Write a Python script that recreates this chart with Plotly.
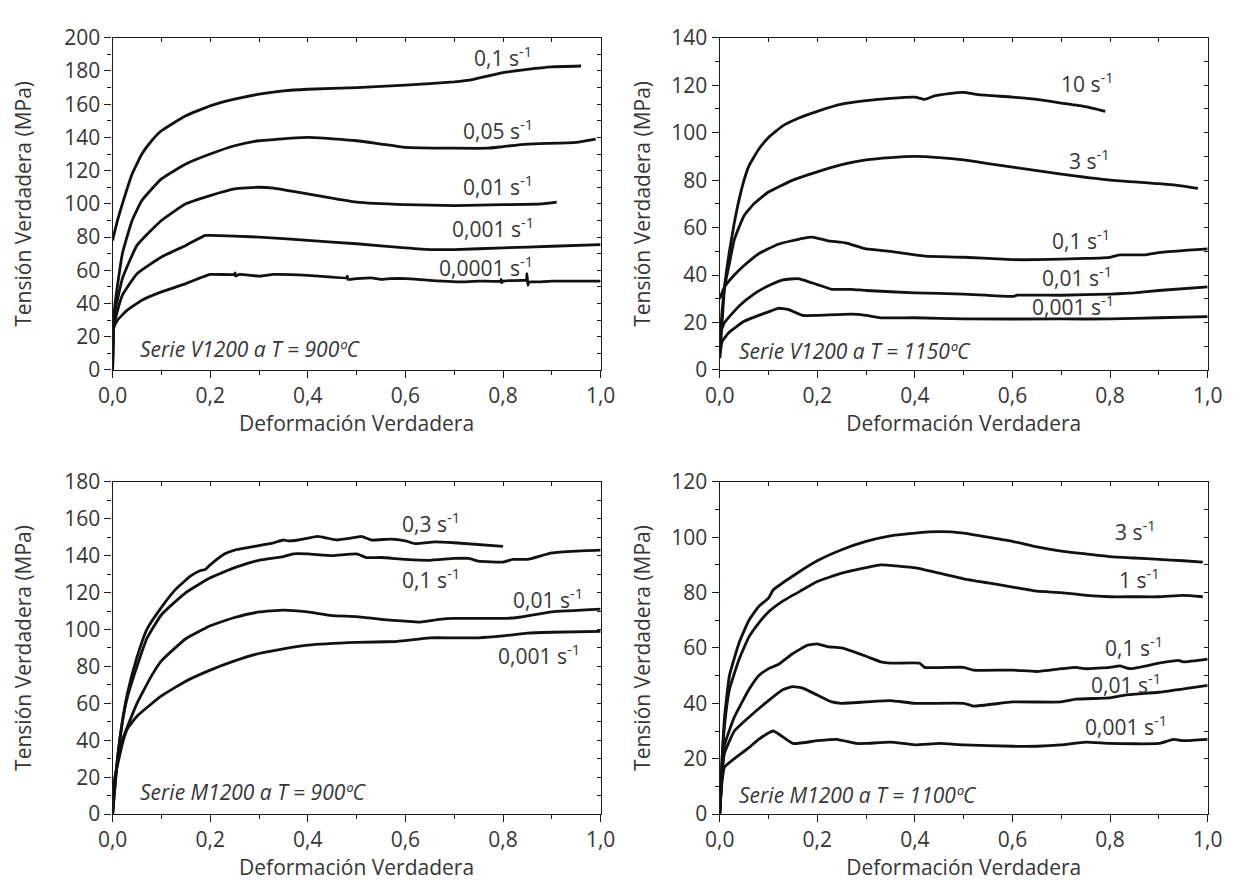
import plotly.graph_objects as go

# ---------------- Serie V1200, T = 900 ºC ----------------
v900_01_x = [0.0, 0.01, 0.02, 0.04, 0.06, 0.08, 0.1, 0.15, 0.2, 0.25, 0.3, 0.35, 0.4, 0.5, 0.6, 0.7, 0.74, 0.8, 0.85, 0.9, 0.96]
v900_01_y = [78, 90, 100, 118, 130, 138, 144, 153, 159, 163, 166, 168, 169, 170, 171.5, 173.5, 175, 179, 181, 182.5, 183]

v900_005_x = [0.0, 0.002, 0.005, 0.02, 0.04, 0.06, 0.1, 0.15, 0.2, 0.25, 0.3, 0.4, 0.5, 0.55, 0.6, 0.7, 0.77, 0.8, 0.85, 0.95, 0.99]
v900_005_y = [0, 28, 40, 70, 90, 102, 115, 124, 130, 135, 138, 140, 138, 136, 134, 133.5, 133.5, 134.5, 136, 137, 139]

v900_001_x = [0.0, 0.002, 0.005, 0.02, 0.05, 0.1, 0.15, 0.2, 0.25, 0.3, 0.33, 0.4, 0.5, 0.6, 0.7, 0.8, 0.88, 0.91]
v900_001_y = [0, 27, 35, 55, 75, 90, 100, 105, 109, 110, 109.5, 106, 101, 99.5, 99, 99.5, 100, 101]

v900_0001_x = [0.0, 0.002, 0.005, 0.02, 0.05, 0.1, 0.15, 0.19, 0.2, 0.3, 0.4, 0.5, 0.6, 0.65, 0.7, 0.8, 0.9, 1.0]
v900_0001_y = [0, 26, 30, 45, 58, 68, 75, 81, 81, 80, 78, 76, 73.5, 72.5, 72.5, 73.5, 74.5, 75.5]

v900_00001_x = [0.0, 0.002, 0.01, 0.03, 0.06, 0.1, 0.15, 0.2, 0.25, 0.251, 0.252, 0.26, 0.3, 0.33, 0.4, 0.48, 0.481, 0.482,
                0.5, 0.53, 0.55, 0.57, 0.6, 0.65, 0.72, 0.75, 0.795, 0.796, 0.797, 0.8, 0.84, 0.848, 0.849, 0.851, 0.853,
                0.87, 0.9, 1.0]
v900_00001_y = [0, 25, 30, 36, 42, 47, 52, 57.5, 57.5, 58.5, 56.5, 57.5, 56.5, 57.5, 57, 55.5, 56.5, 54.5,
                55, 55.5, 54.5, 55, 55, 54, 53, 53.5, 53.5, 54.5, 52.5, 53.5, 54, 54, 58, 51, 53,
                53, 53.5, 53.5]

# ---------------- Serie V1200, T = 1150 ºC ----------------
v1150_10_x = [0.0, 0.005, 0.01, 0.02, 0.03, 0.04, 0.05, 0.06, 0.08, 0.1, 0.13, 0.16, 0.2, 0.25, 0.3, 0.35, 0.4, 0.42,
              0.44, 0.47, 0.5, 0.53, 0.6, 0.65, 0.7, 0.75, 0.79]
v1150_10_y = [5, 20, 35, 50, 62, 72, 80, 86, 93, 98, 103, 106, 109, 112, 113.5, 114.5, 115, 114,
              115.5, 116.5, 117, 116, 115, 114, 112.5, 111, 109]

v1150_3_x = [0.0, 0.005, 0.01, 0.02, 0.03, 0.05, 0.07, 0.1, 0.15, 0.2, 0.25, 0.3, 0.35, 0.4, 0.45, 0.5, 0.55, 0.6,
             0.7, 0.8, 0.9, 0.95, 0.98]
v1150_3_y = [10, 25, 35, 45, 55, 65, 70, 75, 80, 83.5, 86.5, 88.5, 89.5, 90, 89.5, 88.5, 87, 85.5,
             82.5, 80, 78.5, 77.5, 76.5]

v1150_01_x = [0.0, 0.01, 0.03, 0.05, 0.08, 0.12, 0.17, 0.19, 0.22, 0.26, 0.3, 0.35, 0.4, 0.42, 0.5, 0.6, 0.65, 0.75,
              0.8, 0.82, 0.87, 0.9, 1.0]
v1150_01_y = [30, 35, 40, 44, 49, 53, 55.5, 56, 54.5, 53.5, 51, 50, 48.5, 48, 47.5, 46.5, 46.5, 47,
              47.5, 48.5, 48.5, 49.5, 51]

v1150_001_x = [0.0, 0.01, 0.04, 0.07, 0.1, 0.13, 0.16, 0.17, 0.2, 0.23, 0.27, 0.3, 0.4, 0.5, 0.6, 0.61, 0.7, 0.8,
               0.85, 0.9, 1.0]
v1150_001_y = [15, 20, 27, 32, 35.5, 38, 38.5, 38, 36, 34, 34, 33.5, 32.5, 32, 31, 31.5, 31.5, 32,
               32.5, 33.5, 35]

v1150_0001_x = [0.0, 0.005, 0.02, 0.05, 0.08, 0.1, 0.12, 0.14, 0.17, 0.2, 0.27, 0.3, 0.33, 0.4, 0.5, 0.7, 0.8, 0.9, 1.0]
v1150_0001_y = [5, 12, 16, 20.5, 23, 24.5, 26, 25.5, 23, 23, 23.5, 23, 22, 22, 21.5, 21.5, 21.5, 22, 22.5]

# ---------------- Serie M1200, T = 900 ºC ----------------
m900_03_x = [0.0, 0.01, 0.02, 0.03, 0.05, 0.07, 0.1, 0.13, 0.16, 0.18, 0.19, 0.2, 0.23, 0.25, 0.3, 0.33, 0.35, 0.36,
             0.38, 0.42, 0.44, 0.46, 0.5, 0.51, 0.53, 0.57, 0.6, 0.62, 0.66, 0.7, 0.8]
m900_03_y = [0, 30, 50, 65, 85, 100, 112, 122, 129, 132, 132.5, 135, 141, 143, 145.5, 147, 148.5, 148,
             148.5, 150.5, 149.5, 148.5, 150, 150.5, 148.5, 149, 148, 146.5, 147.5, 147, 145]

m900_01_x = [0.0, 0.01, 0.02, 0.03, 0.05, 0.07, 0.1, 0.15, 0.2, 0.25, 0.3, 0.35, 0.37, 0.4, 0.45, 0.5, 0.52, 0.55,
             0.6, 0.65, 0.7, 0.73, 0.75, 0.8, 0.82, 0.85, 0.9, 0.95, 1.0]
m900_01_y = [0, 30, 50, 63, 80, 95, 108, 120, 128, 133.5, 137.5, 139.5, 141, 141, 140, 141, 139, 139,
             138, 137.5, 138.5, 138.5, 137, 136.5, 138, 138, 141.5, 142.5, 143]

m900_001_x = [0.0, 0.005, 0.02, 0.05, 0.08, 0.1, 0.15, 0.2, 0.25, 0.3, 0.35, 0.4, 0.45, 0.5, 0.55, 0.6, 0.63, 0.67,
              0.7, 0.8, 0.83, 0.9, 1.0]
m900_001_y = [0, 20, 40, 60, 75, 83, 95, 102, 106.5, 109.5, 110.5, 109.5, 107.5, 107, 105.5, 104.5, 104, 105.5,
              106, 106, 106.5, 109.5, 111]

m900_0001_x = [0.0, 0.005, 0.02, 0.03, 0.05, 0.1, 0.15, 0.2, 0.25, 0.3, 0.35, 0.4, 0.5, 0.58, 0.6, 0.65, 0.7, 0.75,
               0.8, 0.85, 0.9, 1.0]
m900_0001_y = [0, 20, 38, 46, 53, 64, 72, 78, 83, 87, 89.5, 91.5, 93, 93.5, 94, 95.5, 95.5, 95.5,
               96.5, 98, 98.5, 99]

# ---------------- Serie M1200, T = 1100 ºC ----------------
m1100_3_x = [0.0, 0.005, 0.01, 0.02, 0.04, 0.06, 0.08, 0.1, 0.11, 0.15, 0.2, 0.25, 0.3, 0.35, 0.4, 0.45, 0.5, 0.55,
             0.6, 0.65, 0.7, 0.75, 0.8, 0.85, 0.9, 0.95, 0.99]
m1100_3_y = [0, 20, 35, 50, 62, 70, 75, 78, 81, 86, 91.5, 95.5, 98.5, 100.5, 101.5, 102, 101.5, 100,
             98.5, 96.5, 95, 94, 93, 92.5, 92, 91.5, 91]

m1100_1_x = [0.0, 0.005, 0.01, 0.02, 0.04, 0.06, 0.08, 0.1, 0.13, 0.17, 0.2, 0.25, 0.3, 0.33, 0.37, 0.4, 0.45, 0.5,
             0.55, 0.6, 0.65, 0.7, 0.75, 0.8, 0.85, 0.9, 0.95, 0.99]
m1100_1_y = [0, 20, 32, 45, 56, 64, 69, 73, 77, 81, 84, 87, 89, 90, 89.5, 89, 87, 85,
             83.5, 82, 80.5, 80, 79, 78.5, 78.5, 78.5, 79, 78.5]

m1100_01_x = [0.0, 0.005, 0.01, 0.03, 0.06, 0.08, 0.1, 0.12, 0.15, 0.18, 0.2, 0.22, 0.25, 0.3, 0.33, 0.35, 0.41,
              0.42, 0.5, 0.52, 0.6, 0.65, 0.7, 0.73, 0.75, 0.8, 0.82, 0.84, 0.9, 0.94, 0.95, 1.0]
m1100_01_y = [0, 15, 25, 35, 45, 50, 52.5, 54, 58, 61, 61.5, 60.5, 60, 57, 55, 54.5, 54.5,
              53, 53, 52, 52, 51.5, 52.5, 53, 52.5, 53, 53.5, 52.5, 54.5, 55.5, 55, 56]

m1100_001_x = [0.0, 0.005, 0.01, 0.03, 0.06, 0.1, 0.13, 0.15, 0.17, 0.2, 0.23, 0.25, 0.3, 0.35, 0.4, 0.5, 0.52,
               0.6, 0.7, 0.73, 0.8, 0.83, 0.9, 1.0]
m1100_001_y = [0, 15, 22, 30, 35, 41, 45, 46, 45.5, 43, 40.5, 40, 40.5, 41, 40, 40, 39,
               40.5, 40.5, 41.5, 42, 43, 44, 46.5]

m1100_0001_x = [0.0, 0.005, 0.01, 0.03, 0.06, 0.08, 0.11, 0.15, 0.2, 0.24, 0.28, 0.3, 0.35, 0.4, 0.45, 0.5, 0.6,
                0.65, 0.7, 0.75, 0.8, 0.9, 0.93, 0.95, 1.0]
m1100_0001_y = [0, 12, 17, 20, 24, 27, 30, 25.5, 26.5, 27, 25.5, 25.5, 26, 25, 25.5, 25, 24.5,
                24.5, 25, 26, 25.5, 25.5, 27, 26.5, 27]

# Curve labels (strain-rate text and its anchor position in data units)
v900_labels = ["0,1 s<sup>-1</sup>", "0,05 s<sup>-1</sup>", "0,01 s<sup>-1</sup>", "0,001 s<sup>-1</sup>", "0,0001 s<sup>-1</sup>"]
v900_label_x = [0.80, 0.79, 0.79, 0.78, 0.765]
v900_label_y = [189, 145, 111, 86, 62]

v1150_labels = ["10 s<sup>-1</sup>", "3 s<sup>-1</sup>", "0,1 s<sup>-1</sup>", "0,01 s<sup>-1</sup>", "0,001 s<sup>-1</sup>"]
v1150_label_x = [0.753, 0.757, 0.741, 0.733, 0.725]
v1150_label_y = [121, 88.5, 55, 39.3, 27]

m900_labels = ["0,3 s<sup>-1</sup>", "0,1 s<sup>-1</sup>", "0,01 s<sup>-1</sup>", "0,001 s<sup>-1</sup>"]
m900_label_x = [0.653, 0.653, 0.892, 0.873]
m900_label_y = [158, 127.5, 117, 86.5]

m1100_labels = ["3 s<sup>-1</sup>", "1 s<sup>-1</sup>", "0,1 s<sup>-1</sup>", "0,01 s<sup>-1</sup>", "0,001 s<sup>-1</sup>"]
m1100_label_x = [0.853, 0.86, 0.849, 0.833, 0.833]
m1100_label_y = [102.5, 85, 60.5, 47, 32]

panel_titles = ["Serie V1200 a T = 900ºC", "Serie V1200 a T = 1150ºC",
                "Serie M1200 a T = 900ºC", "Serie M1200 a T = 1100ºC"]
panel_title_x = [0.052, 0.036, 0.052, 0.036]
panel_title_y = [12.6, 8.2, 12.2, 7.0]
y_max = [200, 140, 180, 120]

x_title = "Deformación Verdadera"
y_title = "Tensión Verdadera (MPa)"

FONT = "Open Sans"
TEXT = "#363636"
INK = "#111111"
FS = 21

W, H = 1250, 891
# plot areas in pixels: (left, right, top, bottom)
areas = [(100, 600, 23.5, 366.5), (722, 1222, 23.5, 366.5),
         (100, 600, 482, 825), (722, 1222, 482, 825)]
y_title_gap = [26, 14, 26, 14]

panels = [
    ([(v900_01_x, v900_01_y), (v900_005_x, v900_005_y), (v900_001_x, v900_001_y),
      (v900_0001_x, v900_0001_y), (v900_00001_x, v900_00001_y)],
     (v900_labels, v900_label_x, v900_label_y)),
    ([(v1150_10_x, v1150_10_y), (v1150_3_x, v1150_3_y), (v1150_01_x, v1150_01_y),
      (v1150_001_x, v1150_001_y), (v1150_0001_x, v1150_0001_y)],
     (v1150_labels, v1150_label_x, v1150_label_y)),
    ([(m900_03_x, m900_03_y), (m900_01_x, m900_01_y), (m900_001_x, m900_001_y),
      (m900_0001_x, m900_0001_y)],
     (m900_labels, m900_label_x, m900_label_y)),
    ([(m1100_3_x, m1100_3_y), (m1100_1_x, m1100_1_y), (m1100_01_x, m1100_01_y),
      (m1100_001_x, m1100_001_y), (m1100_0001_x, m1100_0001_y)],
     (m1100_labels, m1100_label_x, m1100_label_y)),
]

fig = go.Figure()
layout = dict(
    width=W, height=H,
    margin=dict(l=0, r=0, t=0, b=0),
    paper_bgcolor="white", plot_bgcolor="white",
    showlegend=False,
    separators=",.",
    font=dict(family=FONT, size=FS, color=TEXT),
)
annotations = []

for i, (curves, (labels, lx, ly)) in enumerate(panels):
    n = i + 1
    ov = i + 5
    xs = "x" if n == 1 else f"x{n}"
    ys = "y" if n == 1 else f"y{n}"
    left, right, top, bottom = areas[i]
    xdom = [left / W, right / W]
    ydom = [(H - bottom) / H, (H - top) / H]

    for cx, cy in curves:
        fig.add_trace(go.Scatter(x=cx, y=cy, mode="lines", xaxis=xs, yaxis=ys,
                                 line=dict(color=INK, width=2.8, shape="spline", smoothing=0.4),
                                 hoverinfo="skip"))
    # companion axes carrying the inward ticks on the top and right edges
    fig.add_trace(go.Scatter(x=[None], y=[None], xaxis=f"x{ov}", yaxis=f"y{ov}",
                             mode="lines", hoverinfo="skip"))

    common = dict(showgrid=False, zeroline=False, linecolor="#1a1a1a", linewidth=1.3,
                  tickcolor="#1a1a1a", tickwidth=1.2)
    layout["xaxis" if n == 1 else f"xaxis{n}"] = dict(
        domain=xdom, anchor=ys, range=[0, 1], dtick=0.2, tick0=0, tickformat=".1f",
        ticks="outside", ticklen=7, mirror=True, showline=True,
        minor=dict(dtick=0.1, ticks="outside", ticklen=4, tickcolor="#1a1a1a", tickwidth=1.2),
        tickfont=dict(size=FS, color=TEXT),
        title=dict(text=x_title, font=dict(size=FS, color=TEXT), standoff=0),
        **common)
    layout["yaxis" if n == 1 else f"yaxis{n}"] = dict(
        domain=ydom, anchor=xs, range=[0, y_max[i]], dtick=20, tick0=0,
        ticks="outside", ticklen=7, mirror=True, showline=True,
        minor=dict(dtick=10, ticks="outside", ticklen=4, tickcolor="#1a1a1a", tickwidth=1.2),
        tickfont=dict(size=FS, color=TEXT),
        title=dict(text=y_title, font=dict(size=FS, color=TEXT), standoff=y_title_gap[i]),
        **common)
    layout[f"xaxis{ov}"] = dict(
        overlaying=xs, anchor=ys, side="top", range=[0, 1], dtick=0.1, tick0=0,
        ticks="inside", ticklen=4, showticklabels=False, showline=False,
        showgrid=False, zeroline=False, tickcolor="#1a1a1a", tickwidth=1.2)
    layout[f"yaxis{ov}"] = dict(
        overlaying=ys, anchor=xs, side="right", range=[0, y_max[i]], dtick=10, tick0=0,
        ticks="inside", ticklen=4, showticklabels=False, showline=False,
        showgrid=False, zeroline=False, tickcolor="#1a1a1a", tickwidth=1.2)

    for t, x0, y0 in zip(labels, lx, ly):
        annotations.append(dict(text=t, x=x0, y=y0, xref=xs, yref=ys, showarrow=False,
                                xanchor="center", yanchor="middle",
                                font=dict(size=FS, color=TEXT, family=FONT)))
    annotations.append(dict(text=f"<i>{panel_titles[i]}</i>", x=panel_title_x[i], y=panel_title_y[i],
                            xref=xs, yref=ys, showarrow=False, xanchor="left", yanchor="middle",
                            font=dict(size=FS, color=TEXT, family=FONT)))

layout["annotations"] = annotations
fig.update_layout(**layout)
fig.write_html("out.html")
